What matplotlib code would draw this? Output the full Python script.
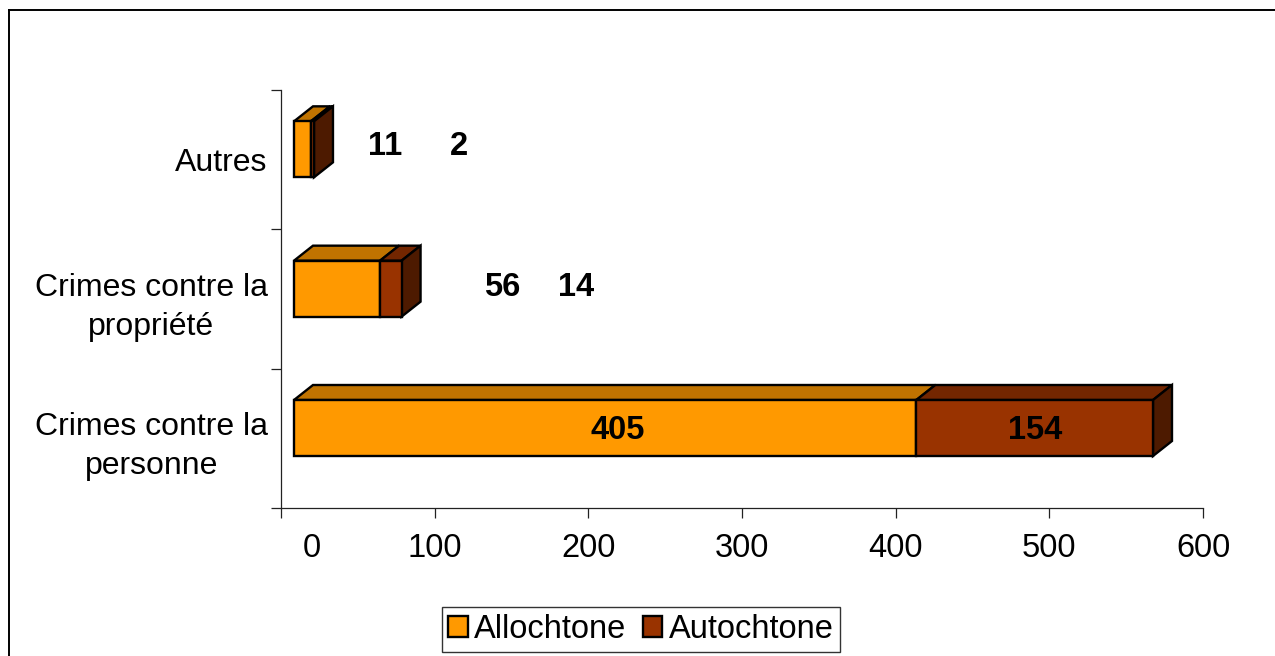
import matplotlib
matplotlib.use("Agg")
import matplotlib.pyplot as plt
from matplotlib.patches import Polygon, Patch
from matplotlib.transforms import ScaledTranslation
import numpy as np

plt.rcParams['font.family'] = ['Liberation Sans', 'DejaVu Sans']

# Data (bottom to top)
categories = ["Crimes contre la\npersonne", "Crimes contre la\npropriété", "Autres"]
allochtone = [405, 56, 11]
autochtone = [154, 14, 2]
series_names = ["Allochtone", "Autochtone"]
x_ticks = [0, 100, 200, 300, 400, 500, 600]
# where each value label sits along the x axis
label_x_alloch = [219, 144, 68]
label_x_autoch = [491, 192, 116]
label_y_shift = [-0.02, 0.008, 0.022]

# colours: front, top, side
col_alloch = ("#FF9900", "#C07300", "#7F4C00")
col_autoch = ("#993300", "#732600", "#4D1A00")

FS = 23.5
W, H = 1275, 656
fig = plt.figure(figsize=(W / 100, H / 100), dpi=100)
ax_l, ax_r, ax_t, ax_b = 281, 1203, 90, 508
ax = fig.add_axes([ax_l / W, (H - ax_b) / H, (ax_r - ax_l) / W, (ax_b - ax_t) / H])
xmax, ncat = 600, 3
ax.set_xlim(0, xmax)
ax.set_ylim(0, ncat)

ux = xmax / (ax_r - ax_l)          # data units per pixel (x)
uy = ncat / (ax_b - ax_t)          # data units per pixel (y)
front_shift = 13 * ux              # bars sit slightly in front of the axis
depth_x, depth_y = 19 * ux, 15 * uy
bar_h = 56 * uy
bar_bottom = 52 * uy

lw = 1.7
ypos = np.arange(ncat) + bar_bottom + bar_h / 2

# front faces through barh, shifted by a fixed pixel offset
shift = ax.transData + ScaledTranslation(13 / 100, 0, fig.dpi_scale_trans)
ax.barh(ypos, allochtone, height=bar_h, color=col_alloch[0], edgecolor="black",
        linewidth=lw, transform=shift, zorder=3)
ax.barh(ypos, autochtone, left=allochtone, height=bar_h, color=col_autoch[0],
        edgecolor="black", linewidth=lw, transform=shift, zorder=3)

# top and side faces of the 3D boxes
for i in range(ncat):
    y0 = i + bar_bottom
    y1 = y0 + bar_h
    segs = [(0, allochtone[i], col_alloch),
            (allochtone[i], allochtone[i] + autochtone[i], col_autoch)]
    for x0, x1, cols in segs:
        a, b = x0 + front_shift, x1 + front_shift
        top = Polygon([(a, y1), (b, y1), (b + depth_x, y1 + depth_y), (a + depth_x, y1 + depth_y)],
                      closed=True, facecolor=cols[1], edgecolor="black", linewidth=lw,
                      joinstyle="miter", zorder=2)
        ax.add_patch(top)
    end = allochtone[i] + autochtone[i] + front_shift
    side = Polygon([(end, y0), (end + depth_x, y0 + depth_y), (end + depth_x, y1 + depth_y), (end, y1)],
                   closed=True, facecolor=col_autoch[2], edgecolor="black", linewidth=lw,
                   joinstyle="miter", zorder=2)
    ax.add_patch(side)

# value labels
for i in range(ncat):
    yl = ypos[i] + label_y_shift[i]
    ax.text(label_x_alloch[i], yl, str(allochtone[i]), ha="center", va="center",
            fontsize=FS, fontweight="bold", zorder=5)
    ax.text(label_x_autoch[i], yl, str(autochtone[i]), ha="center", va="center",
            fontsize=FS, fontweight="bold", zorder=5)

# axes styling
for s in ["top", "right"]:
    ax.spines[s].set_visible(False)
for s in ["left", "bottom"]:
    ax.spines[s].set_linewidth(0.9)
    ax.spines[s].set_color("#222222")

ax.set_xticks(x_ticks)
ax.set_xticklabels([str(v) for v in x_ticks], fontsize=FS)
ax.tick_params(axis="x", direction="out", length=7, width=0.9, pad=11, color="#222222")
lab0 = ax.xaxis.get_majorticklabels()[0]
lab0.set_transform(lab0.get_transform() + ScaledTranslation(31 / 100, 0, fig.dpi_scale_trans))

ax.set_yticks(np.arange(ncat + 1))
ax.set_yticklabels([])
ax.set_yticks(np.arange(ncat) + 0.5, minor=True)
ax.set_yticklabels(categories, minor=True, fontsize=23, ha="right",
                   multialignment="center", linespacing=1.4)
ax.tick_params(axis="y", which="major", direction="out", length=7, width=0.9, color="#222222")
ax.tick_params(axis="y", which="minor", length=0, pad=9.5)
ax.set_facecolor("none")

# legend
handles = [Patch(facecolor=col_alloch[0], edgecolor="black", linewidth=lw),
           Patch(facecolor=col_autoch[0], edgecolor="black", linewidth=lw)]
leg = fig.legend(handles, series_names, loc="center", bbox_to_anchor=(641 / W, 1 - 629.5 / H),
                 ncol=2, fontsize=FS, frameon=True, fancybox=False, handlelength=0.6,
                 handleheight=0.6, handletextpad=0.2, columnspacing=0.5, borderpad=0.2,
                 borderaxespad=0)
leg.get_frame().set_edgecolor("black")
leg.get_frame().set_linewidth(1.0)

# outer chart frame
fig.add_artist(plt.Line2D([9 / W, 9 / W], [0, 1 - 10 / H], transform=fig.transFigure,
                          color="black", linewidth=1.4))
fig.add_artist(plt.Line2D([9 / W, 1], [1 - 10 / H, 1 - 10 / H], transform=fig.transFigure,
                          color="black", linewidth=1.4))

fig.savefig("out.png", dpi=100)
